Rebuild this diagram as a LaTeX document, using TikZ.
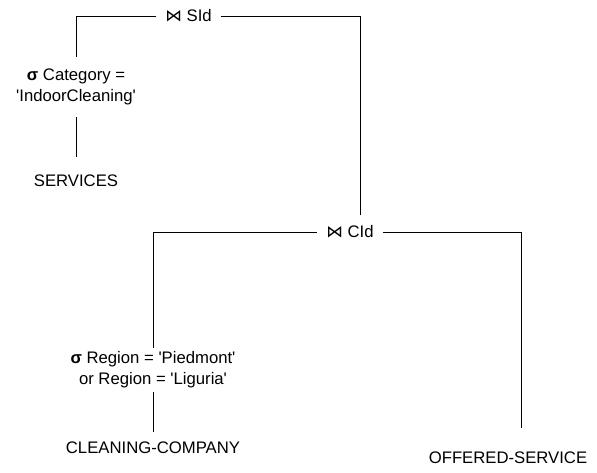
\documentclass[tikz,border=0pt]{standalone}
\usepackage{fontspec}
\setmainfont{Liberation Sans}[Ligatures=TeXOff]
\newfontfamily\symfont{DejaVu Sans}
\tikzset{
  treenode/.style = {align=center, inner sep=0pt, text centered, font=\fontsize{16.7}{21}\selectfont},
  op_join/.style = {treenode, inner xsep=9pt, minimum height=34pt},
  op_sel/.style = {treenode},
  rel_t/.style = {treenode},
  edge_t/.style = {draw=black, line width=1pt},
}
\newcommand{\natjoin}{{\symfont\char"22C8}}
\newcommand{\selop}{\textbf{σ}}

\begin{document}
\begin{tikzpicture}[x=1pt, y=-1pt]
  \useasboundingbox (0,0) rectangle (597,472);
  \node [op_join] (sid) at (188.5,16) {\natjoin{} SId};
  \node [op_join] (cid) at (350,232) {\natjoin{} CId};
  \node [op_sel, minimum height=60pt] (selcat) at (76,87) {\selop{} Category =\\'IndoorCleaning'};
  \node [rel_t, minimum height=48pt] (services) at (76,181) {SERVICES};
  \node [op_sel, minimum height=44pt] (selreg) at (153,370) {\selop{} Region = 'Piedmont'\\or Region = 'Liguria'};
  \node [rel_t, minimum height=32pt] (company) at (153,448) {CLEANING-COMPANY};
  \node [rel_t, minimum height=60pt] (offered) at (508,458) {OFFERED-SERVICE};

  \draw [edge_t] (sid.west) -| (selcat.north);
  \draw [edge_t] (sid.east) -| ([xshift=10pt]cid.north);
  \draw [edge_t] (selcat.south) -- (services.north);
  \draw [edge_t] (cid.west) -| (selreg.north);
  \draw [edge_t] (cid.east) -| ([xshift=13pt]offered.north);
  \draw [edge_t] (selreg.south) -- (company.north);
\end{tikzpicture}
\end{document}
